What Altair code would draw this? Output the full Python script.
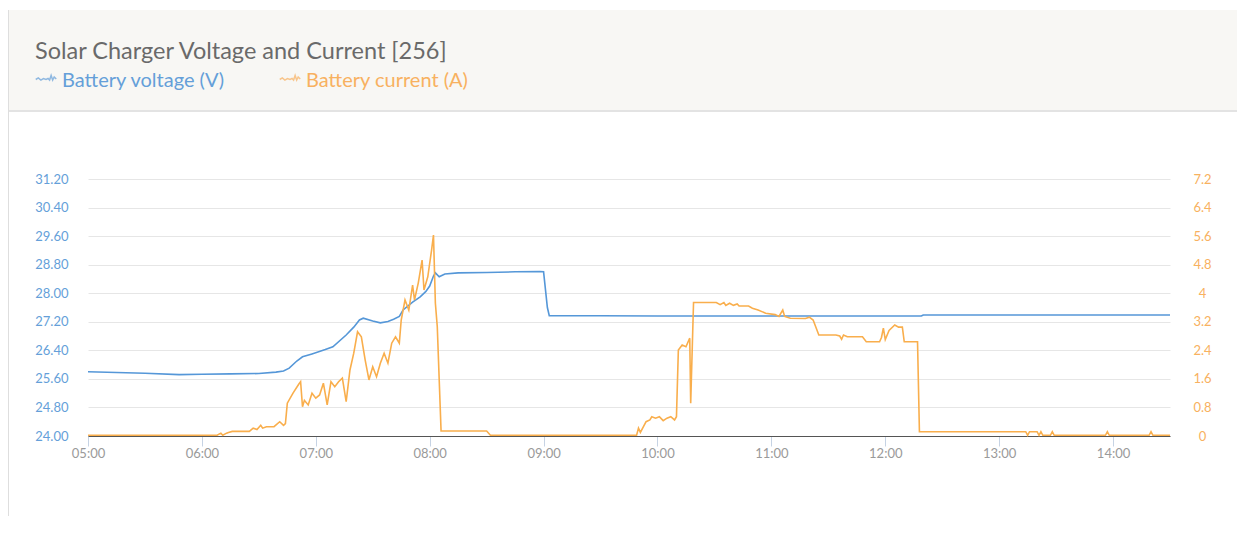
import altair as alt
import pandas as pd

DAY = "2024-01-01T"

# ---- Battery voltage (V) ----
v_times = ["05:00", "05:15", "05:30", "05:48", "06:00", "06:15", "06:30", "06:39", "06:43",
           "06:46", "06:50", "06:53", "06:58", "07:05", "07:09", "07:16", "07:20", "07:23",
           "07:25", "07:30", "07:34", "07:38", "07:41", "07:44", "07:46", "07:51", "07:55",
           "07:58", "08:00", "08:02", "08:03", "08:05", "08:08", "08:15", "08:30", "08:45",
           "08:58", "09:00", "09:02", "09:03", "09:30", "10:00", "10:30", "11:00", "11:30",
           "12:00", "12:19", "12:20", "13:00", "13:30", "14:00", "14:30"]
v_values = [25.80, 25.78, 25.76, 25.72, 25.73, 25.74, 25.75, 25.79, 25.82,
            25.90, 26.10, 26.22, 26.30, 26.42, 26.50, 26.83, 27.05, 27.25,
            27.30, 27.22, 27.17, 27.21, 27.27, 27.35, 27.53, 27.75, 27.90,
            28.05, 28.20, 28.48, 28.57, 28.46, 28.54, 28.57, 28.58, 28.60,
            28.61, 28.60, 27.60, 27.37, 27.37, 27.36, 27.36, 27.36, 27.36,
            27.36, 27.36, 27.39, 27.39, 27.39, 27.39, 27.39]

# ---- Battery current (A) ----
i_times = ["05:00", "06:08", "06:10", "06:11", "06:13", "06:14", "06:16", "06:25", "06:27",
           "06:29", "06:31", "06:32", "06:34", "06:38", "06:41", "06:43", "06:44", "06:45",
           "06:48", "06:51", "06:52", "06:53", "06:54", "06:56", "06:58", "07:00", "07:02",
           "07:04", "07:06", "07:08", "07:10", "07:12", "07:14", "07:16", "07:18", "07:20",
           "07:22", "07:24", "07:26", "07:28", "07:30", "07:32", "07:34", "07:36", "07:38",
           "07:40", "07:42", "07:44", "07:45", "07:47", "07:49", "07:51", "07:52", "07:54",
           "07:56", "07:57", "07:59", "08:01", "08:02", "08:03", "08:04", "08:06", "08:30",
           "08:32", "09:49", "09:50", "09:51", "09:54", "09:56", "09:57", "09:59", "10:01",
           "10:03", "10:05", "10:07", "10:09", "10:10", "10:11", "10:13", "10:15", "10:17",
           "10:17:30", "10:19", "10:31", "10:33", "10:35", "10:36", "10:38", "10:40", "10:42",
           "10:43", "10:48", "10:50", "10:53", "10:57", "11:02", "11:04", "11:06", "11:07",
           "11:10", "11:18", "11:20", "11:22", "11:25", "11:34", "11:36", "11:37", "11:38",
           "11:40", "11:48", "11:50", "11:57", "11:58", "11:59", "12:00", "12:02", "12:05",
           "12:07", "12:09", "12:10", "12:17", "12:18", "13:14", "13:15", "13:16", "13:20",
           "13:21", "13:22", "13:23", "13:27", "13:28", "13:29", "13:56", "13:57", "13:58",
           "14:19", "14:20", "14:21", "14:30"]
i_values = [0.02, 0.02, 0.08, 0.02, 0.08, 0.10, 0.13, 0.13, 0.22,
            0.18, 0.30, 0.22, 0.26, 0.26, 0.40, 0.30, 0.35, 0.92,
            1.20, 1.45, 1.52, 0.82, 1.00, 0.87, 1.20, 1.06, 1.15,
            1.48, 0.87, 1.52, 1.38, 1.52, 1.62, 0.96, 1.85, 2.32,
            2.92, 2.78, 2.13, 1.57, 1.94, 1.66, 2.04, 2.32, 2.04,
            2.60, 2.78, 2.60, 3.25, 3.81, 3.53, 4.23, 3.81, 4.29,
            4.93, 4.09, 4.46, 5.21, 5.63, 3.72, 3.06, 0.14, 0.14,
            0.02, 0.02, 0.22, 0.10, 0.40, 0.45, 0.54, 0.50, 0.54,
            0.43, 0.50, 0.54, 0.45, 0.54, 2.41, 2.55, 2.50, 2.74,
            0.92, 3.74, 3.74, 3.68, 3.74, 3.66, 3.72, 3.66, 3.70,
            3.64, 3.64, 3.58, 3.53, 3.44, 3.40, 3.35, 3.53, 3.35,
            3.30, 3.29, 3.33, 3.25, 2.83, 2.83, 2.80, 2.71, 2.83,
            2.78, 2.78, 2.64, 2.64, 2.76, 3.02, 2.70, 2.96, 3.11,
            3.05, 3.05, 2.64, 2.64, 0.12, 0.12, 0.02, 0.12, 0.12,
            0.02, 0.12, 0.02, 0.02, 0.12, 0.02, 0.02, 0.12, 0.02,
            0.02, 0.12, 0.02, 0.02]

x_tick_hours = [5, 6, 7, 8, 9, 10, 11, 12, 13, 14]
left_ticks = [24.0, 24.8, 25.6, 26.4, 27.2, 28.0, 28.8, 29.6, 30.4, 31.2]
right_ticks = [0, 0.8, 1.6, 2.4, 3.2, 4, 4.8, 5.6, 6.4, 7.2]

title_text = "Solar Charger Voltage and Current [256]"
legend_v = "Battery voltage (V)"
legend_i = "Battery current (A)"

BLUE = "#5597d8"
BLUE_TXT = "#659fd9"
ORANGE = "#f9ae4c"
ORANGE_TXT = "#f8b160"
FONT = "Lato"


def full(t):
    return DAY + (t if t.count(":") == 2 else t + ":00")


vdf = pd.DataFrame({"t": [full(t) for t in v_times], "v": v_values})
idf = pd.DataFrame({"t": [full(t) for t in i_times], "i": i_values})

x_enc = alt.X(
    "t:T",
    title=None,
    scale=alt.Scale(domain=[alt.DateTime(year=2024, month=1, date=1, hours=5),
                            alt.DateTime(year=2024, month=1, date=1, hours=14, minutes=30)]),
    axis=alt.Axis(
        values=[alt.DateTime(year=2024, month=1, date=1, hours=h) for h in x_tick_hours],
        format="%H:%M", grid=False, domainColor="#555555", domainWidth=1,
        tickColor="#c6d3e4", tickSize=10, labelPadding=1, labelColor="#9a9a9a",
        labelFontSize=13, labelFont=FONT, labelFlush=False,
    ),
)

volt = alt.Chart(vdf).mark_line(color=BLUE, strokeWidth=1.6).encode(
    x=x_enc,
    y=alt.Y("v:Q", title=None,
            scale=alt.Scale(domain=[24, 31.2], nice=False, zero=False),
            axis=alt.Axis(orient="left", values=left_ticks, format=".2f", grid=True,
                          gridColor="#e6e6e6", domain=False, ticks=False, labelPadding=20,
                          labelColor=BLUE_TXT, labelFontSize=13, labelFont=FONT)),
)

curr = alt.Chart(idf).mark_line(color=ORANGE, strokeWidth=1.6).encode(
    x=x_enc,
    y=alt.Y("i:Q", title=None,
            scale=alt.Scale(domain=[0, 7.2], nice=False),
            axis=alt.Axis(orient="right", values=right_ticks, grid=False,
                          labelExpr="abs(datum.value - round(datum.value)) < 0.001 ? format(datum.value, 'd') : format(datum.value, '.1f')",
                          domain=False, ticks=False, labelPadding=32, labelAlign="center",
                          labelColor=ORANGE_TXT, labelFontSize=13, labelFont=FONT)),
)

one = pd.DataFrame({"k": [0]})

header = alt.Chart(one).mark_rect(color="#f8f7f4").encode(
    x=alt.value(-80), x2=alt.value(1160), y=alt.value(-169), y2=alt.value(-69))
header_line = alt.Chart(one).mark_rule(color="#e3e3e3", strokeWidth=2).encode(
    x=alt.value(-80), x2=alt.value(1160), y=alt.value(-68))
left_line = alt.Chart(one).mark_rule(color="#dedede", strokeWidth=1).encode(
    x=alt.value(-79.5), y=alt.value(-169), y2=alt.value(400))

title = alt.Chart(one).mark_text(text=title_text, align="left", baseline="alphabetic",
                                 fontSize=23.5, font=FONT, color="#6a6a6a").encode(
    x=alt.value(-53), y=alt.value(-120))

ICON = "M-1,0.05 L-0.75,-0.1 L-0.5,0.1 L-0.25,-0.05 L0,0.05 L0.2,-0.05 L0.35,0.1 L0.5,-0.35 L0.65,0.1 L0.8,-0.2 L1,0"

icon_v = alt.Chart(one).mark_point(shape=ICON, filled=False, color=BLUE_TXT, strokeWidth=1.5,
                                   size=420).encode(x=alt.value(-42), y=alt.value(-100))
text_v = alt.Chart(one).mark_text(text=legend_v, align="left", baseline="alphabetic",
                                  fontSize=20, font=FONT, color=BLUE_TXT).encode(
    x=alt.value(-26), y=alt.value(-92))
icon_i = alt.Chart(one).mark_point(shape=ICON, filled=False, color=ORANGE_TXT, strokeWidth=1.5,
                                   size=420).encode(x=alt.value(202), y=alt.value(-100))
text_i = alt.Chart(one).mark_text(text=legend_i, align="left", baseline="alphabetic",
                                  fontSize=20, font=FONT, color=ORANGE_TXT).encode(
    x=alt.value(218), y=alt.value(-92))

chart = alt.layer(
    header, header_line, left_line, title, icon_v, text_v, icon_i, text_i, volt, curr
).resolve_scale(y="independent").properties(
    width=1082, height=257,
    autosize=alt.AutoSizeParams(type="none"),
    padding={"left": 80, "top": 171, "right": 67, "bottom": 80},
    background="white",
).configure_view(strokeWidth=0)

chart.save("out.html", embed_options={"renderer": "svg", "actions": False})
